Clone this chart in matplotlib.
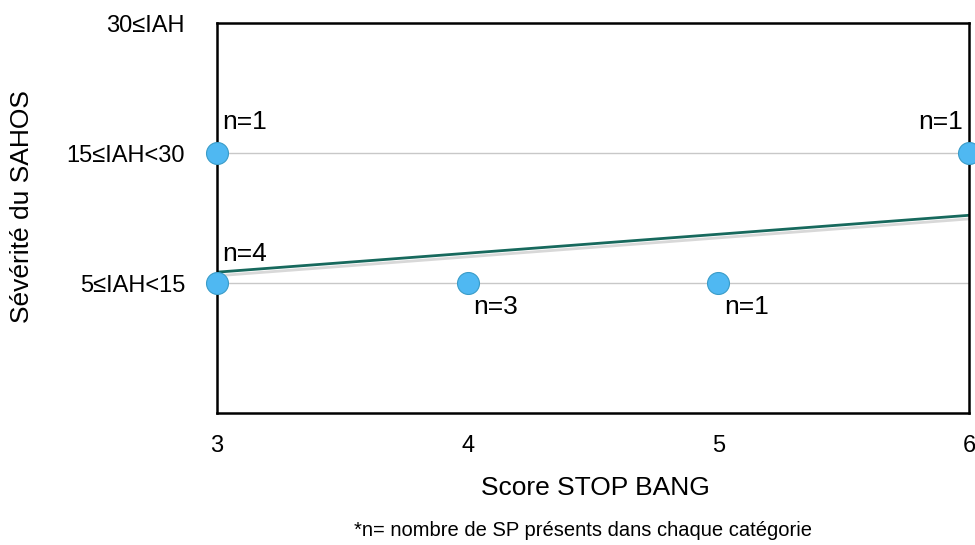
import numpy as np
import matplotlib.pyplot as plt
import matplotlib.patheffects as pe

plt.rcParams['font.family'] = ['Liberation Sans', 'DejaVu Sans']

# données : score STOP BANG, niveau de sévérité (1..3), effectif
stop_bang = [3, 3, 4, 5, 6]
severite = [1, 2, 1, 1, 2]
effectifs = [4, 1, 3, 1, 1]
niveaux = [1, 2, 3]
niveaux_labels = ["5≤IAH<15", "15≤IAH<30", "30≤IAH"]
x_ticks = [3, 4, 5, 6]

fig = plt.figure(figsize=(9.75, 5.45), dpi=100)
ax = fig.add_axes([217 / 975, 132 / 545, 752 / 975, 390 / 545])

# lignes horizontales
for y in [1, 2]:
    ax.axhline(y, color="#c8c8c8", lw=1, zorder=1)

# droite de tendance (pondérée par les effectifs)
xs = np.repeat(stop_bang, effectifs)
ys = np.repeat(severite, effectifs)
a, b = np.polyfit(xs, ys, 1)
xl = np.array([3, 6])
ax.plot(xl, a * xl + b, color="#17695d", lw=2, zorder=2,
        path_effects=[pe.SimpleLineShadow(offset=(1.5, -2.5), alpha=0.3, shadow_color="gray"),
                      pe.Normal()])

ax.scatter(stop_bang, severite, s=250, color="#4fb8f2", edgecolor="#3a9cc8",
           linewidth=0.8, zorder=3, clip_on=False)

# étiquettes n=
offsets = {
    (3, 1): (4, 21, "left"),
    (3, 2): (4, 22, "left"),
    (4, 1): (4, -17, "left"),
    (5, 1): (4, -17, "left"),
    (6, 2): (-4, 22, "right"),
}
for x, y, n in zip(stop_bang, severite, effectifs):
    dx, dy, ha = offsets[(x, y)]
    ax.annotate(f"n={n}", (x, y), xytext=(dx, dy), textcoords="offset points",
                ha=ha, va="center", fontsize=19)

ax.set_xlim(3, 6)
ax.set_ylim(0, 3)
ax.set_xticks(x_ticks)
ax.set_xticklabels([str(t) for t in x_ticks])
ax.set_yticks(niveaux)
ax.set_yticklabels(niveaux_labels)
ax.tick_params(axis="both", length=0, labelsize=17)
ax.tick_params(axis="x", pad=16)
ax.tick_params(axis="y", pad=23)

for s in ax.spines.values():
    s.set_linewidth(1.8)
    s.set_color("black")

ax.set_xlabel("Score STOP BANG", fontsize=19, va="center")
ax.xaxis.set_label_coords(0.503, -0.192)
ax.set_ylabel("Sévérité du SAHOS", fontsize=19, va="center")
ax.yaxis.set_label_coords(-0.259, 0.53)

fig.text(583 / 975, 1 - 530 / 545, "*n= nombre de SP présents dans chaque catégorie",
         ha="center", va="center", fontsize=14.5)

fig.savefig("out.png", dpi=100)
